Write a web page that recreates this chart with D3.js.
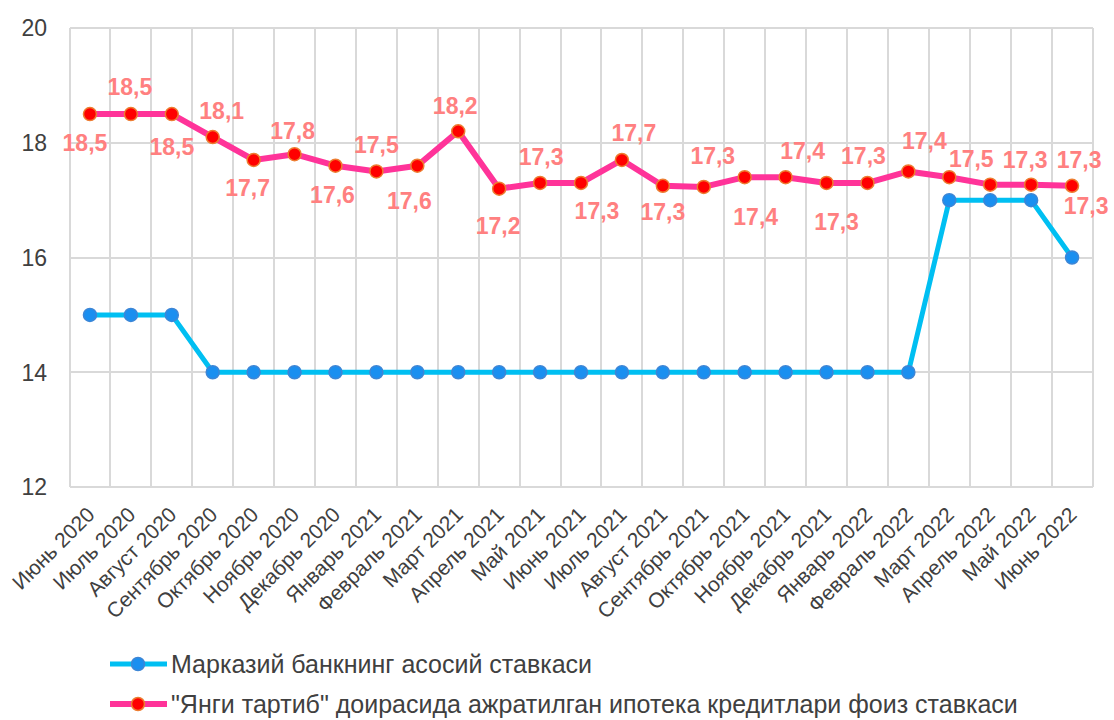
<!DOCTYPE html>
<meta charset="utf-8">
<style>
    body { margin: 0; background: #fff; }
    .grid line { stroke: #d9d9d9; stroke-width: 2px; shape-rendering: crispEdges; }
    .ytick { font: 23px "Liberation Sans", Arial, sans-serif; fill: #404040; text-anchor: end; }
    .xtick { font: 21px "Liberation Sans", Arial, sans-serif; fill: #404040; text-anchor: end; }
    .label { font: bold 23px "Liberation Sans", Arial, sans-serif; fill: #ff8080; text-anchor: middle; }
    .legend text { font: 25px "Liberation Sans", Arial, sans-serif; fill: #404040; }
</style>
<svg width="1114" height="720"></svg>
<script src="https://d3js.org/d3.v7.min.js"></script>
<script>

    var months = ["Июнь 2020", "Июль 2020", "Август 2020", "Сентябрь 2020", "Октябрь 2020", "Ноябрь 2020",
        "Декабрь 2020", "Январь 2021", "Февраль 2021", "Март 2021", "Апрель 2021", "Май 2021", "Июнь 2021",
        "Июль 2021", "Август 2021", "Сентябрь 2021", "Октябрь 2021", "Ноябрь 2021", "Декабрь 2021",
        "Январь 2022", "Февраль 2022", "Март 2022", "Апрель 2022", "Май 2022", "Июнь 2022"];

    var baseRate = [15, 15, 15, 14, 14, 14, 14, 14, 14, 14, 14, 14, 14, 14, 14, 14, 14, 14, 14, 14, 14, 17, 17, 17, 16];

    var mortgageRate = [18.5, 18.5, 18.5, 18.1, 17.7, 17.8, 17.6, 17.5, 17.6, 18.2, 17.2, 17.3, 17.3, 17.7, 17.25,
        17.23, 17.4, 17.4, 17.3, 17.3, 17.5, 17.4, 17.27, 17.27, 17.25];

    var mortgageLabels = ["18,5", "18,5", "18,5", "18,1", "17,7", "17,8", "17,6", "17,5", "17,6", "18,2", "17,2",
        "17,3", "17,3", "17,7", "17,3", "17,3", "17,4", "17,4", "17,3", "17,3", "17,4", "17,5", "17,3", "17,3", "17,3"];

    var yTicks = [12, 14, 16, 18, 20];

    var seriesNames = ["Марказий банкнинг асосий ставкаси",
        "\"Янги тартиб\" доирасида ажратилган ипотека кредитлари фоиз ставкаси"];

    // label placement relative to its point (manually moved in the original)
    var labelOffset = [[-5, 29], [-1, -27], [0, 33], [9, -26], [-6, 28], [-2, -24], [-3, 29], [0, -27], [-8, 35],
        [-3, -26], [-1, 37], [1, -26], [16, 28], [12, -27], [0, 26], [9, -31], [11, 40], [17, -26], [10, 39],
        [-4, -27], [16, -31], [22, -18], [35, -25], [48, -25], [14, 20]];

    var svg = d3.select("svg"),
        plotLeft = 69.5, plotRight = 1092.5, plotTop = 28, plotBottom = 487;

    var x = d3.scaleBand().domain(months).range([plotLeft, plotRight]).padding(0);
    var y = d3.scaleLinear().domain([12, 20]).range([plotBottom, plotTop]);

    var grid = svg.append("g").attr("class", "grid");
    grid.selectAll("line.h").data(yTicks).enter().append("line")
        .attr("class", "h")
        .attr("x1", plotLeft).attr("x2", plotRight)
        .attr("y1", function (d) { return y(d); })
        .attr("y2", function (d) { return y(d); });

    var edges = months.map(function (m) { return x(m); }).concat([plotRight]);
    grid.selectAll("line.v").data(edges).enter().append("line")
        .attr("class", "v")
        .attr("x1", function (d) { return d; }).attr("x2", function (d) { return d; })
        .attr("y1", plotTop).attr("y2", plotBottom);

    svg.selectAll("text.ytick").data(yTicks).enter().append("text")
        .attr("class", "ytick")
        .attr("x", 47)
        .attr("y", function (d) { return y(d); })
        .attr("dy", "0.36em")
        .text(function (d) { return d; });

    svg.selectAll("text.xtick").data(months).enter().append("text")
        .attr("class", "xtick")
        .attr("transform", function (d) {
            return "translate(" + (x(d) + x.bandwidth() / 2 + 6) + "," + 516 + ") rotate(-45)";
        })
        .text(function (d) { return d; });

    function cx(i) { return x(months[i]) + x.bandwidth() / 2; }

    var line = d3.line()
        .x(function (d, i) { return cx(i); })
        .y(function (d) { return y(d); });

    var series = [
        {values: baseRate, line: "#00bff2", width: 5, fill: "#1a8ff0", stroke: "#3d86d6"},
        {values: mortgageRate, line: "#ff3399", width: 6, fill: "#ff0000", stroke: "#ed7d31"}
    ];

    series.forEach(function (s) {
        svg.append("path")
            .datum(s.values)
            .attr("fill", "none")
            .attr("stroke", s.line)
            .attr("stroke-width", s.width)
            .attr("stroke-linejoin", "round")
            .attr("d", line);

        svg.selectAll(null).data(s.values).enter().append("circle")
            .attr("cx", function (d, i) { return cx(i); })
            .attr("cy", function (d) { return y(d); })
            .attr("r", 6.5)
            .attr("fill", s.fill)
            .attr("stroke", s.stroke)
            .attr("stroke-width", 1.5);
    });

    svg.selectAll("text.label").data(mortgageLabels).enter().append("text")
        .attr("class", "label")
        .attr("x", function (d, i) { return cx(i) + labelOffset[i][0]; })
        .attr("y", function (d, i) { return y(mortgageRate[i]) + labelOffset[i][1]; })
        .attr("dy", "0.36em")
        .text(function (d) { return d; });

    var legend = svg.append("g").attr("class", "legend");
    var item = legend.selectAll("g").data(series).enter().append("g")
        .attr("transform", function (d, i) { return "translate(0," + (664 + i * 40) + ")"; });
    item.append("line")
        .attr("x1", 110).attr("x2", 167)
        .attr("stroke", function (d) { return d.line; })
        .attr("stroke-width", function (d) { return d.width; });
    item.append("circle")
        .attr("cx", 138).attr("r", 6.5)
        .attr("fill", function (d) { return d.fill; })
        .attr("stroke", function (d) { return d.stroke; })
        .attr("stroke-width", 1.5);
    item.append("text")
        .attr("x", 171)
        .attr("dy", "0.36em")
        .text(function (d, i) { return seriesNames[i]; });

</script>
